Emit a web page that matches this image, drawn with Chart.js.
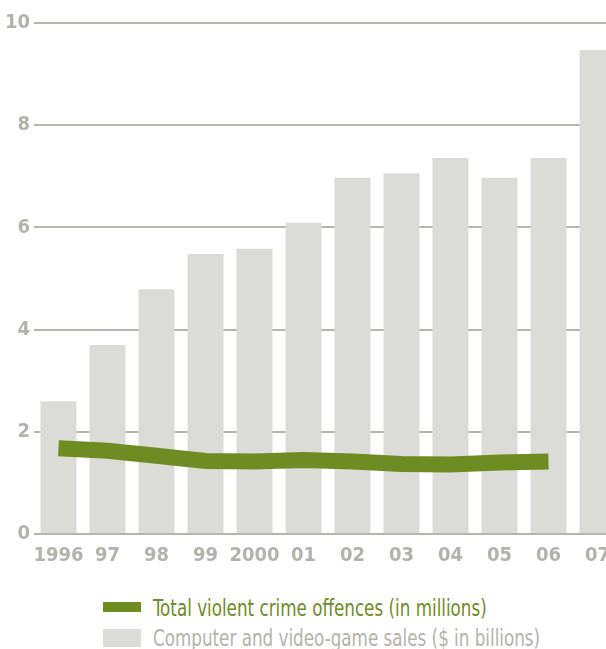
<!DOCTYPE html>
<html>
<head>
<meta charset="utf-8">
<script src="https://cdn.jsdelivr.net/npm/chart.js@4"></script>
<style>
  html, body { margin: 0; padding: 0; background: #fff; }
  #wrap { position: relative; width: 606px; height: 649px; overflow: hidden; }
  #holder { position: absolute; left: 0; top: 0; width: 622px; height: 574px; }
  .leg { position: absolute; left: 103px; font-family: "DejaVu Sans Condensed", sans-serif; font-size: 23px; white-space: nowrap; }
  .leg span.box { position: absolute; left: 0; width: 38px; }
  .leg span.txt { position: absolute; left: 50px; line-height: 24px; transform: scaleX(0.81); transform-origin: 0 50%; }
</style>
</head>
<body>
<div id="wrap">
  <div id="holder"><canvas id="grafico" width="622" height="574"></canvas></div>
  <div class="leg" style="top:596px;color:#6f8c23">
    <span class="box" style="top:6px;height:10px;background:#6f8c23"></span>
    <span class="txt" style="top:0">Total violent crime offences (in millions)</span>
  </div>
  <div class="leg" style="top:626px;color:#b3b3ab">
    <span class="box" style="top:3px;height:18px;background:#dbdbd7"></span>
    <span class="txt" style="top:0">Computer and video-game sales ($ in billions)</span>
  </div>
</div>
<script>
// Datos
const anios = ['1996', '97', '98', '99', '2000', '01', '02', '03', '04', '05', '06', '07'];
const ventasJuegos = [2.6, 3.7, 4.79, 5.48, 5.58, 6.09, 6.97, 7.06, 7.36, 6.97, 7.36, 9.47];
const crimenesViolentos = [1.68, 1.63, 1.53, 1.43, 1.42, 1.45, 1.42, 1.37, 1.36, 1.40, 1.42, null];
const ticksY = [0, 2, 4, 6, 8, 10];

const verde = '#6f8c23';
const grisBarra = '#dbdbd7';
const grisTexto = '#b3b3ab';
const fuente = '"DejaVu Sans Condensed", sans-serif';

const ctx = document.getElementById('grafico').getContext('2d');
new Chart(ctx, {
  data: {
    labels: anios,
    datasets: [
      {
        type: 'line',
        label: 'Total violent crime offences (in millions)',
        data: crimenesViolentos,
        borderColor: verde,
        borderWidth: 16,
        borderCapStyle: 'butt',
        borderJoinStyle: 'miter',
        tension: 0,
        pointRadius: 0,
        fill: false,
        order: 0
      },
      {
        type: 'bar',
        label: 'Computer and video-game sales ($ in billions)',
        data: ventasJuegos,
        backgroundColor: grisBarra,
        categoryPercentage: 1,
        barPercentage: 36 / 49,
        order: 1
      }
    ]
  },
  options: {
    responsive: false,
    animation: false,
    layout: { padding: { top: 23, right: 0, left: 0, bottom: 0 } },
    plugins: { legend: { display: false }, tooltip: { enabled: false } },
    scales: {
      x: {
        grid: { display: false, drawTicks: false },
        border: { display: false },
        ticks: {
          color: grisTexto,
          padding: 10,
          maxRotation: 0,
          autoSkip: false,
          font: { family: fuente, size: 20, weight: 'bold' }
        },
        afterFit: function (escala) { escala.height = 40; }
      },
      y: {
        min: 0,
        max: 10,
        z: 1,
        afterBuildTicks: function (escala) {
          escala.ticks = ticksY.map(v => ({ value: v }));
        },
        grid: { color: '#b5b5ad', lineWidth: 2, drawTicks: false },
        border: { display: false },
        ticks: {
          color: grisTexto,
          padding: 4,
          font: { family: fuente, size: 20, weight: 'bold' }
        },
        afterFit: function (escala) { escala.width = 34; }
      }
    }
  }
});
</script>
</body>
</html>
